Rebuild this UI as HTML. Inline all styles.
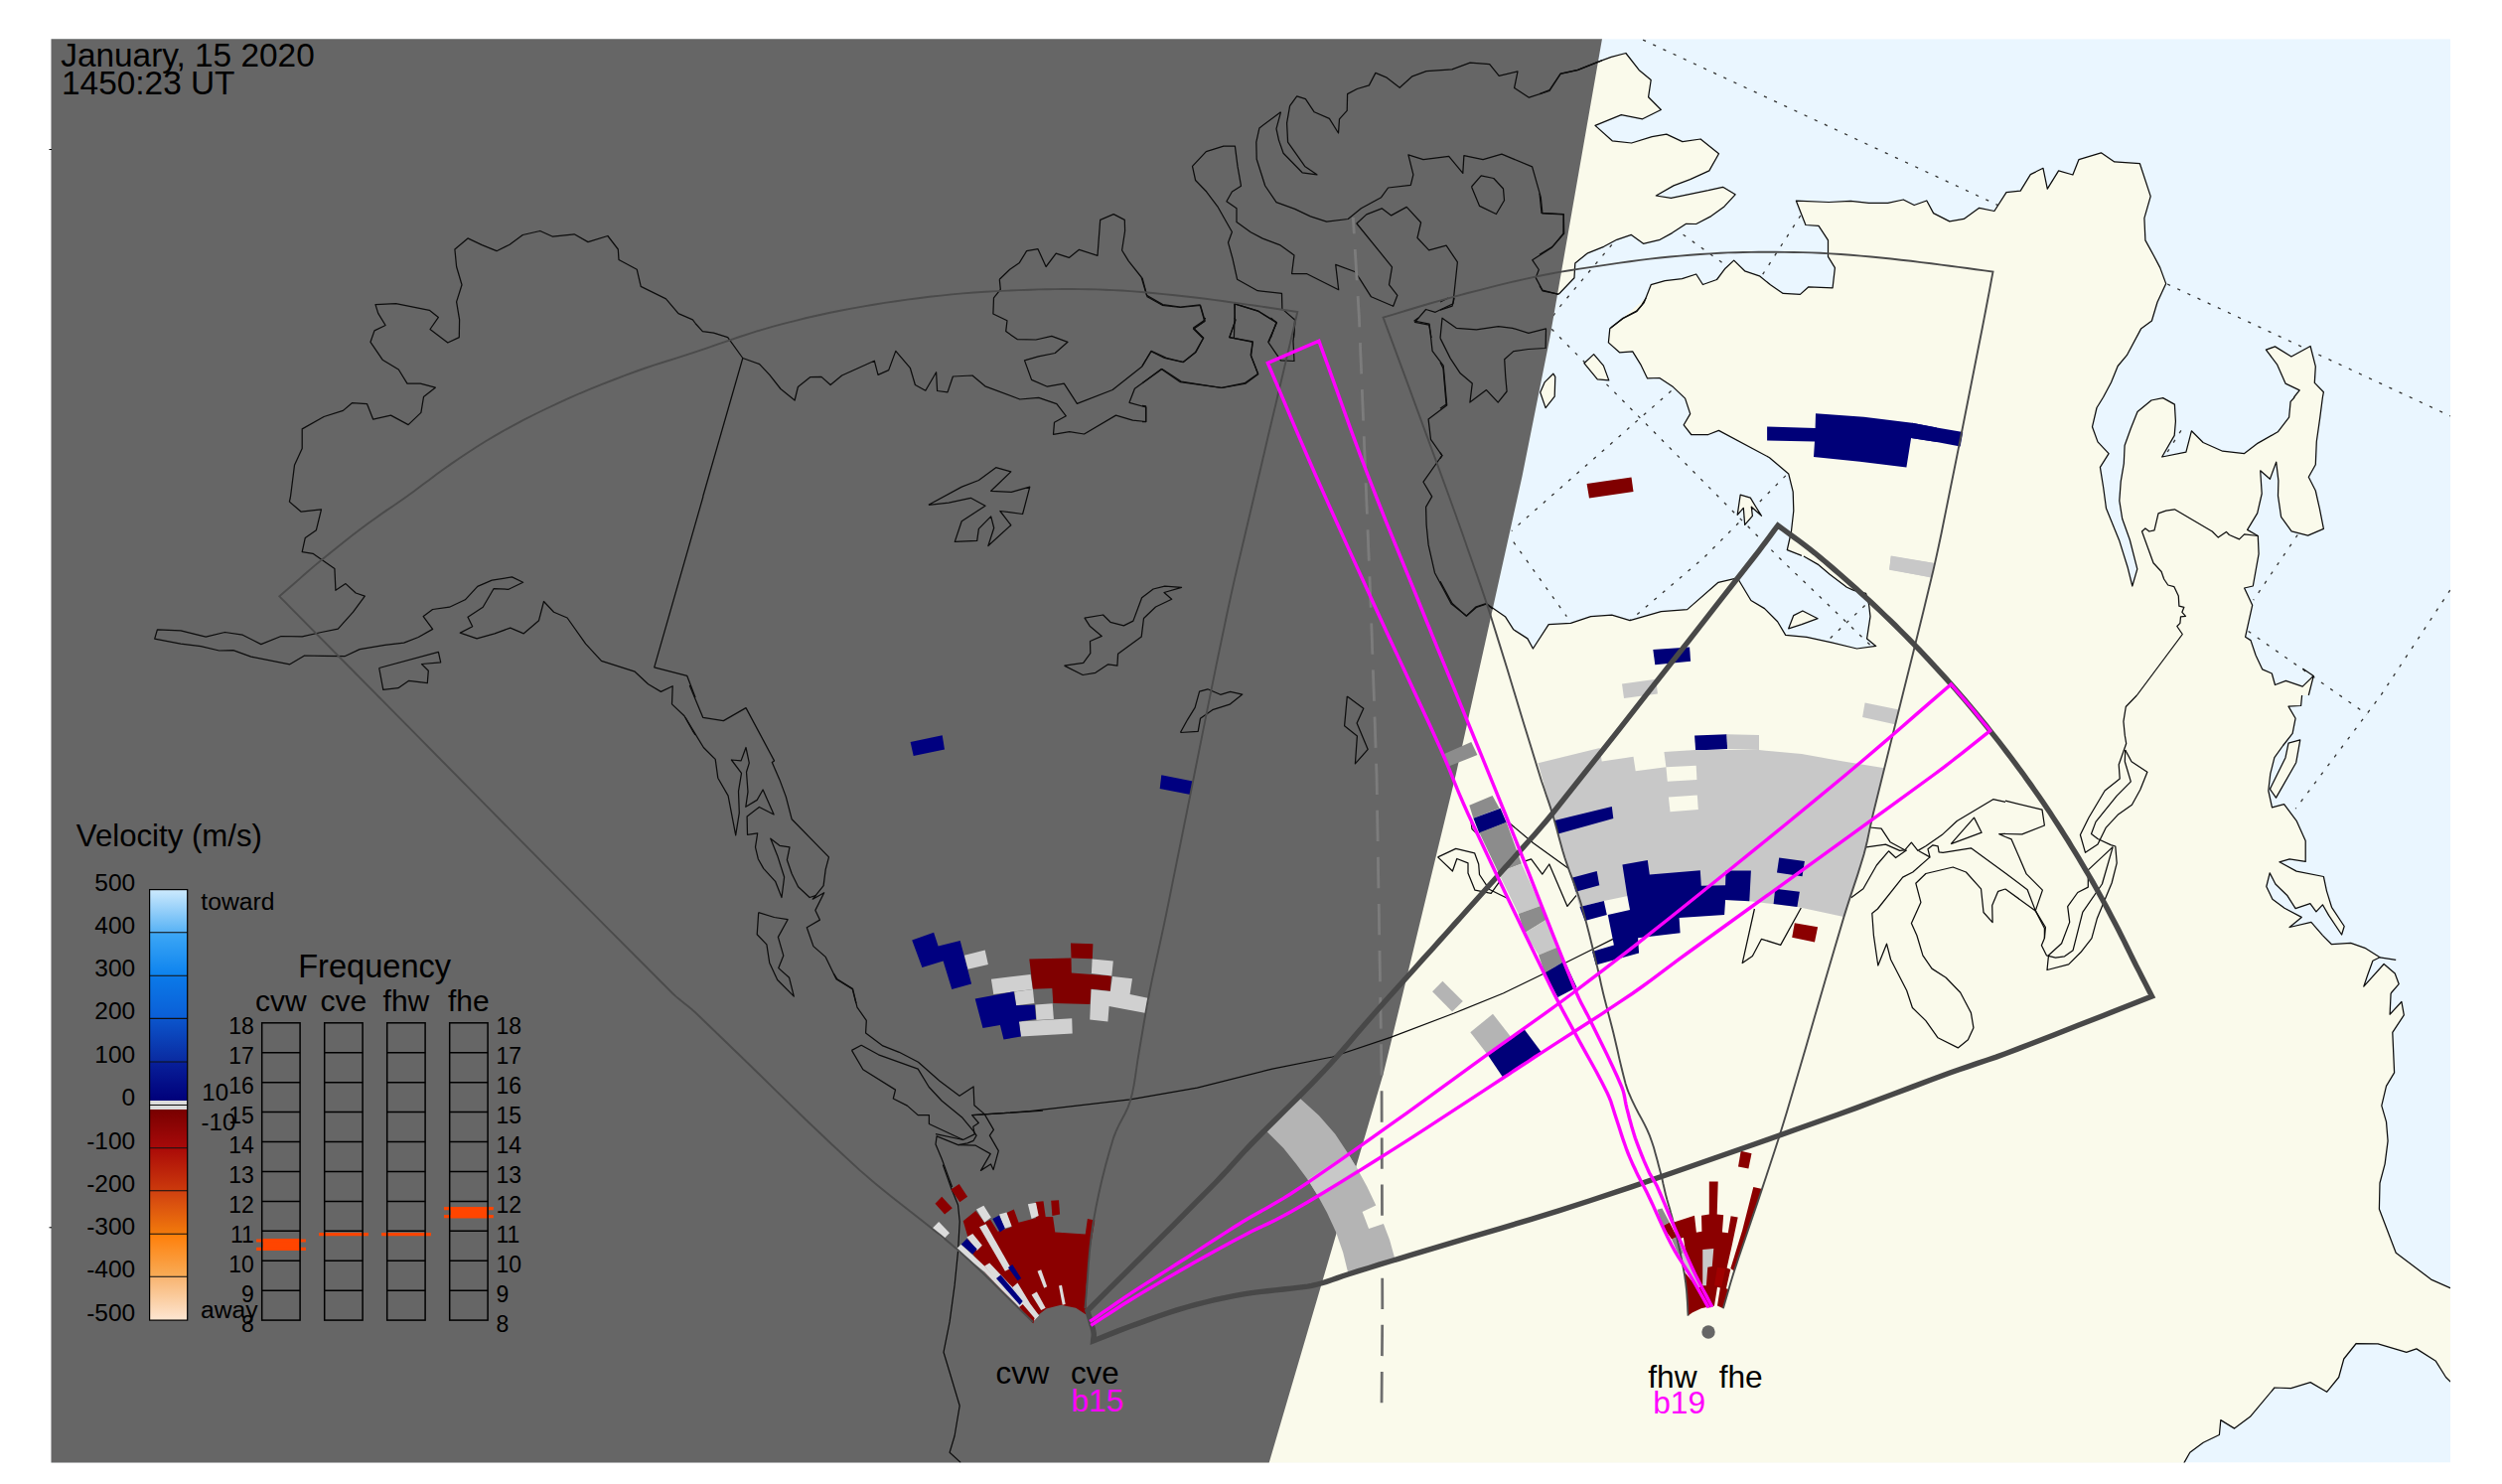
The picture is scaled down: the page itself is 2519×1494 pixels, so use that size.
<!DOCTYPE html><html><head><meta charset="utf-8"><title>Radar map</title><style>html,body{margin:0;padding:0;background:#fff}svg{display:block}text{font-family:"Liberation Sans",sans-serif}</style></head><body>
<svg width="2519" height="1494" viewBox="0 0 2519 1494">
<defs><clipPath id="pc"><rect x="51.5" y="39.2" width="2415.5" height="1433.3"/></clipPath>
<linearGradient id="g0" x1="0" y1="0" x2="0" y2="1"><stop offset="0" stop-color="#cdeafd"/><stop offset="1" stop-color="#58b2f5"/></linearGradient>
<linearGradient id="g1" x1="0" y1="0" x2="0" y2="1"><stop offset="0" stop-color="#3ea8f6"/><stop offset="1" stop-color="#0c82ee"/></linearGradient>
<linearGradient id="g2" x1="0" y1="0" x2="0" y2="1"><stop offset="0" stop-color="#0b7ae9"/><stop offset="1" stop-color="#0b5ed6"/></linearGradient>
<linearGradient id="g3" x1="0" y1="0" x2="0" y2="1"><stop offset="0" stop-color="#0b55cc"/><stop offset="1" stop-color="#0a2aa0"/></linearGradient>
<linearGradient id="g4" x1="0" y1="0" x2="0" y2="1"><stop offset="0" stop-color="#08209a"/><stop offset="1" stop-color="#00007a"/></linearGradient>
<linearGradient id="g5" x1="0" y1="0" x2="0" y2="1"><stop offset="0" stop-color="#780000"/><stop offset="1" stop-color="#a80a0a"/></linearGradient>
<linearGradient id="g6" x1="0" y1="0" x2="0" y2="1"><stop offset="0" stop-color="#aa0a08"/><stop offset="1" stop-color="#cc3a0c"/></linearGradient>
<linearGradient id="g7" x1="0" y1="0" x2="0" y2="1"><stop offset="0" stop-color="#d04010"/><stop offset="1" stop-color="#f27a0c"/></linearGradient>
<linearGradient id="g8" x1="0" y1="0" x2="0" y2="1"><stop offset="0" stop-color="#ff7e08"/><stop offset="1" stop-color="#f8ac58"/></linearGradient>
<linearGradient id="g9" x1="0" y1="0" x2="0" y2="1"><stop offset="0" stop-color="#f8b470"/><stop offset="1" stop-color="#fde6d2"/></linearGradient>
<clipPath id="nightclip"><polygon points="51.0,39.0 1613.0,39.0 1560.4,340.0 1532.4,480.0 1465.7,780.0 1443.6,871.0 1417.3,980.0 1393.0,1080.0 1277.6,1473.0 51.0,1473.0"/></clipPath>
</defs>
<rect width="2519" height="1494" fill="#fff"/>
<g clip-path="url(#pc)">
<rect x="51.5" y="39.2" width="2415.5" height="1433.3" fill="#eaf6ff"/>
<g fill="none" stroke="#333" stroke-width="1.3" stroke-dasharray="3.2,8">
<polyline points="1654.1,40.1 2008.0,204.9 2180.7,285.4 2425.4,399.4 2470.0,420.2"/>
<polyline points="1812.8,217.0 1774.4,276.7"/>
<polyline points="1694.6,236.2 1734.0,264.5"/>
<polyline points="1622.8,246.3 1570.2,309.0 1560.0,323.0"/>
<polyline points="1562.2,331.3 1793.7,564.0 1884.7,651.0"/>
<polyline points="1682.5,393.6 1521.8,534.5"/>
<polyline points="1797.8,478.9 1714.9,562.0 1641.1,624.7"/>
<polyline points="1523.8,545.7 1577.4,620.7"/>
<polyline points="1877.6,609.5 1842.2,642.9"/>
<polyline points="2313.2,538.5 2268.7,604.2"/>
<polyline points="2263.6,635.5 2383.0,719.2"/>
<polyline points="2466.8,594.0 2397.0,700.0 2311.2,814.2"/>
<polyline points="2195.9,433.4 2181.8,455.6"/>
</g>
<g fill="#fafaeb" stroke="none">
<polygon points="2304.0,748.1 2315.8,744.9 2311.7,767.7 2291.5,803.1 2285.4,794.4 2301.0,762.7"/>
<polygon points="1594.9,365.7 1604.6,356.6 1614.4,368.1 1619.8,382.9 1608.3,381.9"/>
<polygon points="1550.7,395.0 1555.1,384.9 1563.8,376.2 1565.8,379.4 1565.2,399.1 1556.1,410.6"/>
<polygon points="1752.2,498.1 1762.3,501.1 1767.8,510.2 1773.5,519.3 1763.3,510.2 1764.4,519.3 1756.7,528.4 1755.3,511.3 1749.2,518.3"/>
<polygon points="1800.7,632.8 1805.8,619.6 1814.9,615.0 1830.1,622.7 1813.9,628.7"/>
</g>
<polygon points="1608.6,62.3 1622.2,57.3 1636.9,53.5 1650.1,70.4 1662.2,80.5 1659.6,97.7 1672.3,110.5 1653.7,119.8 1632.3,115.7 1606.0,126.4 1623.2,141.8 1642.6,144.0 1663.2,137.7 1677.8,135.1 1693.9,142.6 1712.1,140.0 1730.5,154.7 1720.8,171.9 1701.6,180.6 1685.0,186.9 1667.3,197.0 1682.4,199.4 1719.8,191.7 1734.6,188.3 1747.1,195.8 1736.0,207.9 1722.8,217.6 1707.7,225.5 1697.6,225.3 1683.4,234.6 1671.3,241.3 1654.5,245.3 1642.4,236.4 1627.8,241.3 1614.7,248.3 1598.5,254.8 1585.8,265.1 1585.0,279.7 1569.2,296.2 1489.4,292.8 1489.4,50.2" fill="#fafaeb"/>
<polygon points="1288.3,883.5 1288.3,607.9 1496.9,607.9 1515.7,621.1 1523.8,633.8 1537.9,642.9 1543.4,653.0 1559.2,628.7 1581.4,627.3 1601.6,620.6 1622.8,619.2 1641.0,624.7 1672.4,615.6 1698.7,613.6 1730.0,586.3 1749.2,581.8 1762.9,604.5 1776.5,612.6 1789.6,625.7 1797.7,639.4 1818.9,641.3 1844.2,646.9 1869.5,653.0 1888.7,650.4 1879.6,642.9 1883.0,620.6 1881.6,608.5 1878.6,597.4 1866.4,594.4 1859.4,591.3 1842.2,578.2 1830.1,568.1 1815.9,560.0 1813.9,559.4 1799.3,553.7 1803.4,535.5 1805.8,514.3 1805.2,495.1 1800.7,476.9 1781.5,460.7 1730.4,433.4 1719.9,437.5 1702.7,437.5 1695.2,427.8 1701.7,416.6 1696.6,401.1 1684.5,389.6 1670.8,380.5 1658.6,380.9 1652.2,367.7 1643.7,353.8 1630.5,354.8 1619.4,344.9 1620.8,330.7 1634.0,320.2 1647.7,313.1 1652.8,307.1 1657.2,300.0 1621.8,330.0 1633.9,320.7 1648.0,313.4 1655.1,304.9 1662.2,286.7 1676.3,282.7 1693.5,280.7 1707.7,276.0 1714.4,286.5 1728.5,281.5 1737.0,270.2 1745.7,262.1 1756.6,272.8 1771.4,277.8 1782.5,286.7 1795.2,295.4 1812.4,296.4 1820.9,288.8 1845.1,289.8 1847.4,269.6 1840.5,258.4 1840.5,241.9 1831.0,227.3 1817.9,226.5 1808.4,202.2 1841.1,203.5 1863.3,202.4 1881.5,204.3 1900.7,204.3 1916.3,201.0 1927.2,206.5 1939.8,202.0 1946.6,214.6 1962.8,222.9 1977.2,220.4 1992.7,209.3 2007.9,212.5 2020.0,193.7 2034.2,192.1 2044.3,175.6 2049.9,172.9 2049.9,172.8 2057.0,169.3 2061.3,190.2 2072.6,171.8 2086.9,176.0 2093.0,160.6 2115.4,153.8 2128.8,162.9 2154.4,164.7 2165.2,197.6 2158.9,219.7 2159.9,241.9 2168.6,257.7 2174.7,269.4 2180.7,285.6 2172.0,304.2 2166.4,323.0 2155.5,331.1 2141.3,357.7 2132.2,368.5 2125.5,385.0 2117.5,400.0 2117.5,400.0 2111.0,410.5 2106.5,429.7 2112.0,444.9 2123.1,456.6 2114.4,470.4 2117.7,491.0 2120.5,511.8 2133.6,543.9 2142.3,571.8 2146.8,590.0 2151.8,572.8 2144.3,543.5 2136.7,522.3 2133.8,504.1 2135.2,484.9 2138.3,466.7 2139.1,448.5 2145.3,431.3 2152.0,414.6 2166.0,403.0 2177.7,400.6 2189.4,407.1 2190.4,424.3 2189.2,438.4 2176.7,460.0 2200.9,455.2 2206.4,433.8 2218.1,445.5 2237.7,454.2 2259.6,456.6 2273.3,446.1 2293.3,434.8 2304.6,420.2 2306.1,404.4 2310.1,400.0 2309.5,400.0 2315.2,392.9 2301.0,386.1 2292.5,366.8 2281.4,352.1 2290.5,348.9 2306.9,359.0 2326.1,348.5 2331.3,368.9 2330.3,385.4 2339.4,394.7 2338.4,400.0 2338.4,400.0 2335.8,420.2 2332.3,444.5 2331.3,467.7 2324.3,480.3 2331.3,494.0 2335.4,512.2 2339.4,532.4 2323.6,539.1 2307.1,534.8 2296.6,520.3 2293.5,499.1 2293.9,483.9 2291.7,465.1 2285.4,482.3 2275.7,473.8 2277.2,497.0 2272.7,516.6 2262.6,533.4 2273.3,539.5 2274.1,557.7 2268.3,590.0 2259.6,592.0 2267.7,609.2 2260.6,641.2 2266.0,644.6 2271.1,659.8 2277.8,673.9 2287.3,678.0 2290.5,689.5 2301.4,685.4 2318.2,691.1 2329.3,680.4 2318.6,673.3 2329.3,680.4 2324.3,700.0 2317.6,700.0 2316.6,710.5 2304.0,711.1 2311.1,723.2 2308.1,738.4 2298.6,750.5 2289.9,762.7 2285.8,778.8 2283.8,796.0 2287.5,812.8 2299.6,809.6 2312.1,826.3 2321.2,846.6 2321.2,867.4 2305.1,864.8 2294.9,867.8 2312.1,877.1 2339.4,882.5 2342.5,897.1 2347.5,913.3 2360.2,932.5 2357.6,941.0 2344.5,921.4 2338.4,910.8 2331.9,917.9 2325.9,909.6 2311.1,914.7 2303.0,901.8 2290.9,890.0 2285.2,878.9 2281.8,892.5 2287.9,905.2 2300.0,914.3 2317.2,923.4 2305.1,933.5 2326.9,928.4 2338.4,941.6 2347.5,950.7 2366.7,949.3 2380.9,954.3 2396.0,963.8 2388.9,967.3 2383.9,981.0 2379.8,993.1 2400.1,970.5 2411.2,980.0 2415.2,990.7 2407.1,1000.0 2407.1,1000.0 2406.1,1021.2 2417.9,1008.5 2420.3,1021.8 2408.8,1039.4 2410.6,1079.9 2402.5,1093.4 2397.8,1113.2 2402.5,1129.4 2404.1,1148.6 2401.1,1171.8 2396.0,1191.0 2395.4,1217.3 2412.2,1261.2 2447.6,1288.1 2466.8,1296.6 2504.2,1303.2 2509.7,1398.3 2466.9,1390.9 2462.5,1386.5 2452.4,1370.3 2432.9,1357.9 2422.8,1361.3 2394.1,1352.8 2372.2,1352.5 2359.8,1368.0 2354.7,1386.5 2342.6,1401.3 2326.1,1391.6 2306.5,1397.6 2290.0,1397.0 2265.4,1426.3 2249.6,1438.1 2235.8,1429.6 2234.4,1444.5 2218.3,1452.2 2204.8,1462.3 2199.1,1472.4 2199.1,1479.2 2199.1,1533.1 1145.1,1533.1" fill="#fafaeb"/>
<g fill="#eaf6ff" stroke="none">
</g>
<polygon points="51.0,39.0 1613.0,39.0 1560.4,340.0 1532.4,480.0 1465.7,780.0 1443.6,871.0 1417.3,980.0 1393.0,1080.0 1277.6,1473.0 51.0,1473.0" fill="#666666"/>
<g fill="none" stroke="#0d0d0d" stroke-width="1.25" stroke-linejoin="round">
<polyline points="1608.6,62.3 1622.2,57.3 1636.9,53.5 1650.1,70.4 1662.2,80.5 1659.6,97.7 1672.3,110.5 1653.7,119.8 1632.3,115.7 1606.0,126.4 1623.2,141.8 1642.6,144.0 1663.2,137.7 1677.8,135.1 1693.9,142.6 1712.1,140.0 1730.5,154.7 1720.8,171.9 1701.6,180.6 1685.0,186.9 1667.3,197.0 1682.4,199.4 1719.8,191.7 1734.6,188.3 1747.1,195.8 1736.0,207.9 1722.8,217.6 1707.7,225.5 1697.6,225.3 1683.4,234.6 1671.3,241.3 1654.5,245.3 1642.4,236.4 1627.8,241.3 1614.7,248.3 1598.5,254.8 1585.8,265.1 1585.0,279.7 1569.2,296.2"/>
<polyline points="1621.8,330.0 1633.9,320.7 1648.0,313.4 1655.1,304.9 1662.2,286.7 1676.3,282.7 1693.5,280.7 1707.7,276.0 1714.4,286.5 1728.5,281.5 1737.0,270.2 1745.7,262.1 1756.6,272.8 1771.4,277.8 1782.5,286.7 1795.2,295.4 1812.4,296.4 1820.9,288.8 1845.1,289.8 1847.4,269.6 1840.5,258.4 1840.5,241.9 1831.0,227.3 1817.9,226.5 1808.4,202.2 1841.1,203.5 1863.3,202.4 1881.5,204.3 1900.7,204.3 1916.3,201.0 1927.2,206.5 1939.8,202.0 1946.6,214.6 1962.8,222.9 1977.2,220.4 1992.7,209.3 2007.9,212.5 2020.0,193.7 2034.2,192.1 2044.3,175.6 2049.9,172.9"/>
<polyline points="2049.9,172.8 2057.0,169.3 2061.3,190.2 2072.6,171.8 2086.9,176.0 2093.0,160.6 2115.4,153.8 2128.8,162.9 2154.4,164.7 2165.2,197.6 2158.9,219.7 2159.9,241.9 2168.6,257.7 2174.7,269.4 2180.7,285.6 2172.0,304.2 2166.4,323.0 2155.5,331.1 2141.3,357.7 2132.2,368.5 2125.5,385.0 2117.5,400.0"/>
<polyline points="2309.5,400.0 2315.2,392.9 2301.0,386.1 2292.5,366.8 2281.4,352.1 2290.5,348.9 2306.9,359.0 2326.1,348.5 2331.3,368.9 2330.3,385.4 2339.4,394.7 2338.4,400.0"/>
<polyline points="2117.5,400.0 2111.0,410.5 2106.5,429.7 2112.0,444.9 2123.1,456.6 2114.4,470.4 2117.7,491.0 2120.5,511.8 2133.6,543.9 2142.3,571.8 2146.8,590.0 2151.8,572.8 2144.3,543.5 2136.7,522.3 2133.8,504.1 2135.2,484.9 2138.3,466.7 2139.1,448.5 2145.3,431.3 2152.0,414.6 2166.0,403.0 2177.7,400.6 2189.4,407.1 2190.4,424.3 2189.2,438.4 2176.7,460.0 2200.9,455.2 2206.4,433.8 2218.1,445.5 2237.7,454.2 2259.6,456.6 2273.3,446.1 2293.3,434.8 2304.6,420.2 2306.1,404.4 2310.1,400.0"/>
<polyline points="2338.4,400.0 2335.8,420.2 2332.3,444.5 2331.3,467.7 2324.3,480.3 2331.3,494.0 2335.4,512.2 2339.4,532.4 2323.6,539.1 2307.1,534.8 2296.6,520.3 2293.5,499.1 2293.9,483.9 2291.7,465.1 2285.4,482.3 2275.7,473.8 2277.2,497.0 2272.7,516.6 2262.6,533.4 2273.3,539.5 2274.1,557.7 2268.3,590.0 2259.6,592.0 2267.7,609.2 2260.6,641.2 2266.0,644.6 2271.1,659.8 2277.8,673.9 2287.3,678.0 2290.5,689.5 2301.4,685.4 2318.2,691.1 2329.3,680.4 2318.6,673.3 2329.3,680.4 2324.3,700.0"/>
<polyline points="2317.6,700.0 2316.6,710.5 2304.0,711.1 2311.1,723.2 2308.1,738.4 2298.6,750.5 2289.9,762.7 2285.8,778.8 2283.8,796.0 2287.5,812.8 2299.6,809.6 2312.1,826.3 2321.2,846.6 2321.2,867.4 2305.1,864.8 2294.9,867.8 2312.1,877.1 2339.4,882.5 2342.5,897.1 2347.5,913.3 2360.2,932.5 2357.6,941.0 2344.5,921.4 2338.4,910.8 2331.9,917.9 2325.9,909.6 2311.1,914.7 2303.0,901.8 2290.9,890.0 2285.2,878.9 2281.8,892.5 2287.9,905.2 2300.0,914.3 2317.2,923.4 2305.1,933.5 2326.9,928.4 2338.4,941.6 2347.5,950.7 2366.7,949.3 2380.9,954.3 2396.0,963.8 2388.9,967.3 2383.9,981.0 2379.8,993.1 2400.1,970.5 2411.2,980.0 2415.2,990.7 2407.1,1000.0"/>
<polyline points="2407.1,1000.0 2406.1,1021.2 2417.9,1008.5 2420.3,1021.8 2408.8,1039.4 2410.6,1079.9 2402.5,1093.4 2397.8,1113.2 2402.5,1129.4 2404.1,1148.6 2401.1,1171.8 2396.0,1191.0 2395.4,1217.3 2412.2,1261.2 2447.6,1288.1 2466.8,1296.6 2504.2,1303.2"/>
<polyline points="2509.7,1398.3 2466.9,1390.9 2462.5,1386.5 2452.4,1370.3 2432.9,1357.9 2422.8,1361.3 2394.1,1352.8 2372.2,1352.5 2359.8,1368.0 2354.7,1386.5 2342.6,1401.3 2326.1,1391.6 2306.5,1397.6 2290.0,1397.0 2265.4,1426.3 2249.6,1438.1 2235.8,1429.6 2234.4,1444.5 2218.3,1452.2 2204.8,1462.3 2199.1,1472.4 2199.1,1479.2"/>
<polyline points="1813.9,559.4 1799.3,553.7 1803.4,535.5 1805.8,514.3 1805.2,495.1 1800.7,476.9 1781.5,460.7 1730.4,433.4 1719.9,437.5 1702.7,437.5 1695.2,427.8 1701.7,416.6 1696.6,401.1 1684.5,389.6 1670.8,380.5 1658.6,380.9 1652.2,367.7 1643.7,353.8 1630.5,354.8 1619.4,344.9 1620.8,330.7 1634.0,320.2 1647.7,313.1 1652.8,307.1 1657.2,300.0"/>
<polyline points="1496.9,607.9 1515.7,621.1 1523.8,633.8 1537.9,642.9 1543.4,653.0 1559.2,628.7 1581.4,627.3 1601.6,620.6 1622.8,619.2 1641.0,624.7 1672.4,615.6 1698.7,613.6 1730.0,586.3 1749.2,581.8 1762.9,604.5 1776.5,612.6 1789.6,625.7 1797.7,639.4 1818.9,641.3 1844.2,646.9 1869.5,653.0 1888.7,650.4 1879.6,642.9 1883.0,620.6 1881.6,608.5 1878.6,597.4 1866.4,594.4 1859.4,591.3 1842.2,578.2 1830.1,568.1 1815.9,560.0"/>
<polyline points="1272.7,1078.2 1280.9,1076.1 1341.5,1064.0 1400.0,1044.3 1464.1,1020.0 1513.4,1000.0 1551.1,981.7 1603.7,955.5 1623.9,945.4"/>
<polyline points="1608.6,62.3 1588.4,70.4 1571.2,74.1 1560.1,90.6 1550.0,94.7"/>
<polyline points="1550.0,194.8 1552.0,214.4 1574.3,215.6 1574.7,235.2 1563.1,248.3 1550.0,256.4"/>
<polyline points="1569.2,296.2 1553.0,292.8 1550.0,287.7"/>
<polyline points="2273.3,539.5 2259.6,537.9 2254.5,542.9 2244.4,538.5 2241.4,535.4 2233.3,541.1 2227.2,535.0 2189.4,512.8 2180.7,514.2 2173.0,516.8 2169.0,533.8 2163.9,535.0 2159.9,532.0 2156.5,535.0 2168.0,566.8 2176.1,575.5 2178.7,583.0 2182.7,589.0 2188.8,590.6 2193.3,600.1 2193.9,610.2 2198.9,611.3 2196.9,616.3 2200.5,620.4 2195.5,620.8 2194.9,627.4 2191.8,630.5 2197.3,638.5 2151.4,700.0"/>
<polyline points="2396.0,963.8 2412.2,966.4"/>
<polyline points="2151.4,700.0 2140.3,711.5 2137.9,726.3 2139.3,740.4 2140.7,748.5 2133.2,769.7 2134.2,783.9 2119.1,796.0 2102.9,823.3 2094.4,840.5 2099.5,858.3 2112.0,850.0 2120.1,833.4 2132.2,820.3 2146.4,810.2 2154.8,795.0 2161.9,777.2 2146.0,766.7 2139.7,755.0"/>
<polyline points="2139.7,755.0 2139.3,766.7 2145.3,786.9 2131.2,801.1 2110.0,827.4 2105.5,839.5 2112.0,844.5 2125.1,850.6 2129.8,852.0 2131.2,868.8 2126.1,889.0 2118.1,908.2 2111.4,924.4 2105.9,944.6 2094.8,958.8 2082.7,970.9 2061.0,976.5 2062.5,961.8 2075.6,949.7 2083.7,928.4 2081.7,912.7 2091.8,898.5 2102.3,893.1 2102.3,875.9 2127.2,852.6"/>
<polyline points="2127.2,852.6 2116.4,890.0 2096.8,918.3 2087.1,956.7 2078.6,962.8 2069.5,964.2 2060.4,961.8 2055.4,951.7 2058.4,944.6 2058.4,934.5 2049.3,916.9 2056.4,896.1 2040.2,879.9 2025.1,844.9 2019.0,842.5"/>
<polyline points="2019.0,806.1 2056.0,815.2 2058.4,831.0 2035.8,839.9 2019.0,839.5"/>
<polyline points="2019.0,878.9 2041.2,895.7 2049.3,916.9 2019.0,895.1"/>
<polyline points="2049.3,916.9 2059.4,933.5 2058.4,944.6"/>
<polyline points="1450.0,340.4 1452.0,320.2 1466.2,330.3 1486.4,331.9 1508.6,328.7 1522.8,330.3 1538.9,335.4 1556.5,330.9 1556.1,350.5 1538.9,351.5 1523.8,353.6 1514.7,361.7 1515.7,378.8 1517.1,394.0 1508.2,405.1 1496.5,392.6 1479.9,405.1 1482.3,385.9 1470.2,375.8 1460.1,360.6 1450.0,340.4"/>
<polyline points="1450.0,364.7 1453.0,370.8 1456.1,407.1 1450.0,411.2"/>
<polyline points="1450.0,304.0 1458.1,300.0"/>
<polyline points="1450.0,312.1 1462.1,308.1 1464.2,300.0"/>
<polyline points="1450.0,455.7 1452.0,458.7 1450.0,461.7"/>
<polyline points="1450.0,585.3 1462.1,607.5 1476.3,620.2 1486.4,611.5 1496.9,607.9"/>
<polyline points="1766.4,915.0 1754.2,969.6 1764.4,962.5 1773.5,945.3 1792.7,951.4 1813.3,914.0"/>
<polyline points="1447.6,862.9 1465.8,854.4 1484.6,858.8 1488.7,870.0 1489.5,880.5 1499.2,895.2 1517.4,904.3"/>
<polyline points="1447.6,862.9 1462.4,877.0 1466.8,864.5 1478.0,868.9 1478.0,879.1 1485.0,896.2 1501.2,899.3 1509.3,888.2"/>
<polyline points="1518.4,827.5 1543.7,848.7 1580.1,875.0"/>
<polyline points="1535.6,866.9 1541.6,864.9 1552.8,880.1 1559.8,870.0 1578.0,912.4 1587.1,901.3"/>
<polyline points="1481.0,826.5 1482.0,834.6 1487.1,839.6"/>
<polyline points="1882.3,833.0 1894.1,834.2 1903.0,847.7 1917.7,855.8 1924.4,848.1 1930.9,856.4 1938.9,851.8 1955.1,840.6 1970.3,826.5 2006.7,804.7 2019.0,807.3"/>
<polyline points="2019.0,839.4 2012.7,839.6 2019.0,842.5"/>
<polyline points="1931.9,856.8 1943.0,862.9 1941.0,854.8 1946.0,850.8 1951.1,851.8 1952.1,857.8 1956.1,858.4 1984.4,853.8 2019.0,878.9"/>
<polyline points="1964.2,849.7 1987.5,823.1 1995.1,838.2 1964.2,849.7"/>
<polyline points="1877.3,853.2 1898.5,850.1 1912.7,856.4 1917.7,855.8"/>
<polyline points="1943.0,862.9 1925.8,878.0 1915.7,883.1 1890.4,915.0 1884.8,919.5 1886.4,941.7 1890.8,972.0 1899.5,950.2 1903.6,966.0 1919.7,997.3 1925.4,1014.5 1938.9,1027.6 1951.1,1044.8 1971.3,1054.9 1981.4,1046.8 1986.9,1034.7 1984.4,1019.6 1973.7,999.3 1959.2,984.2 1945.0,975.1 1935.9,961.9 1929.9,941.7 1924.4,929.6 1933.9,908.4 1928.8,889.2 1938.9,879.5 1966.2,873.0 1979.4,878.0 1994.5,894.8 1997.0,918.5 2006.1,928.6 2005.7,911.4 2011.7,897.3 2019.0,895.0"/>
<polyline points="1863.7,903.7 1875.9,894.8 1889.4,871.0 1901.5,856.8 1908.6,863.5 1919.7,855.8"/>
<polyline points="857.5,1057.4 867.2,1052.3 884.5,1061.8 924.2,1076.1 935.2,1094.2 948.2,1108.2 969.0,1125.3 980.6,1139.4 981.6,1141.6 969.7,1147.5 935.4,1131.5 935.4,1122.6 924.2,1122.6 913.4,1113.1 899.3,1106.0 901.5,1097.1 868.9,1076.7 857.5,1057.4"/>
<polyline points="839.3,980.0 843.0,985.9 858.6,995.6 863.0,1014.1 872.3,1027.4 871.6,1040.0 888.9,1052.9 905.3,1059.3 924.5,1069.2 946.0,1088.2 966.0,1103.3 980.1,1093.9 980.9,1112.7 991.2,1121.6 1000.4,1137.4 996.4,1143.1 1005.3,1158.6 1000.1,1177.6 997.5,1172.0 987.5,1178.4 997.2,1161.6 982.3,1153.2 964.6,1152.7 943.1,1143.8 942.0,1152.0 948.2,1166.8 954.2,1183.1 958.6,1195.0"/>
<polyline points="1049.9,1118.2 978.6,1122.6 985.3,1130.5 979.8,1134.2 980.9,1140.1 983.1,1143.1 980.1,1148.3 974.2,1150.8 964.6,1152.7"/>
<polyline points="942.0,1141.6 969.7,1147.5"/>
<polyline points="979.6,1122.7 1036.9,1118.7 1138.0,1106.9 1205.4,1095.1 1272.8,1078.2"/>
<polyline points="949.3,1172.6 957.7,1196.2 964.5,1213.0 966.2,1229.8 964.5,1260.2 961.1,1293.9 956.1,1330.9 950.0,1361.3 956.1,1381.5 966.2,1415.2 961.1,1445.5 956.1,1462.3 967.2,1472.4"/>
<polyline points="1213.7,320.0 1211.7,323.0 1201.5,330.1 1211.7,340.2 1204.0,354.4 1191.4,364.5 1174.3,360.4 1159.1,353.4 1150.0,368.5"/>
<polyline points="1150.0,385.7 1169.2,371.5 1188.4,384.7 1229.9,390.4 1253.1,385.7 1266.6,376.2 1259.2,357.4 1261.2,343.9 1237.9,339.6 1244.0,322.0 1243.0,320.0"/>
<polyline points="1279.4,320.0 1285.4,325.1 1276.8,344.3 1289.5,362.9 1303.0,363.5 1302.0,343.7 1304.0,322.6 1304.6,320.0"/>
<polyline points="1150.0,408.3 1153.6,408.9 1153.6,424.5 1150.0,424.5"/>
<polyline points="1428.0,320.0 1423.9,323.0 1439.1,326.1 1442.1,353.4 1453.2,368.1 1456.7,407.9 1438.1,422.1 1440.5,442.3 1451.8,458.5 1433.0,485.2 1441.7,499.9 1435.6,510.4 1436.1,528.2 1438.1,548.4 1444.5,576.7 1461.3,608.1 1476.5,620.0 1485.6,611.1 1496.1,607.7 1502.8,613.1"/>
<polyline points="1441.1,340.0 1438.7,327.1 1424.5,324.4 1435.6,311.5 1445.1,314.3 1462.9,305.8 1467.4,263.8 1456.1,247.2 1438.7,251.9 1427.0,239.5 1430.6,224.0 1416.2,208.4 1400.7,216.9 1391.2,209.8 1375.8,215.9 1365.9,225.0 1401.5,268.8 1398.5,286.6 1406.9,297.3 1402.7,308.3 1380.5,298.8 1368.3,279.6 1363.9,273.5 1344.7,266.4 1347.7,291.7 1315.4,275.5 1300.6,275.5 1303.0,256.9 1288.5,246.6 1271.3,240.1 1259.2,233.7 1245.0,223.6 1245.0,209.8 1234.9,202.7 1240.4,193.0 1249.5,187.2 1246.0,167.4 1243.4,147.1 1231.9,147.1 1214.3,152.6 1200.5,167.4 1203.6,181.5 1214.7,193.0 1225.8,207.8 1240.4,233.5 1236.5,244.2 1241.0,260.4 1245.6,281.2 1266.2,292.7 1290.5,295.3 1290.9,310.9 1303.6,322.0 1302.6,340.0"/>
<polyline points="1289.5,112.8 1267.9,128.9 1264.8,143.1 1265.2,160.3 1273.7,187.0 1285.0,203.7 1303.6,210.4 1319.4,217.9 1335.6,223.2 1357.2,220.5 1370.4,209.8 1390.6,198.7 1397.6,189.0 1420.3,186.4 1422.9,175.8 1417.9,155.8 1433.0,160.7 1458.7,157.3 1472.8,174.4 1473.9,156.6 1493.1,160.7 1511.9,155.2 1542.6,167.8 1551.3,198.7 1552.9,214.9 1574.1,215.9 1573.9,235.1 1562.4,249.2 1542.8,261.8 1549.3,271.5 1546.2,279.6 1552.9,292.1 1569.1,296.3"/>
<polyline points="1289.5,112.8 1285.0,129.6 1287.5,141.1 1292.1,154.2 1311.1,173.8 1325.9,175.8 1313.7,167.4 1296.6,143.1 1295.6,123.9 1298.6,106.7 1305.7,96.8 1314.4,99.6 1323.2,112.8 1338.4,119.4 1347.5,134.0 1348.5,119.9 1356.2,111.4 1356.6,94.6 1366.3,89.5 1378.4,85.9 1384.9,73.4 1395.6,77.8 1409.2,88.3 1421.9,76.8 1436.1,71.7 1461.9,69.9 1480.1,63.2 1499.7,64.7 1509.2,76.4 1528.0,71.9 1524.6,88.5 1539.4,98.2 1560.0,91.5 1571.1,74.4 1588.3,70.7 1612.9,60.8"/>
<polyline points="1481.5,188.0 1491.2,176.9 1503.8,179.5 1513.5,190.0 1514.5,201.7 1506.4,215.5 1489.6,207.4 1481.5,188.0"/>
<polyline points="1150.0,279.6 1155.1,298.8 1170.2,307.3 1188.4,309.5 1208.6,307.5 1213.1,323.0 1201.5,331.1 1210.6,340.0"/>
<polyline points="1242.4,340.0 1243.4,305.8 1266.2,312.9 1285.0,324.6 1279.4,340.0"/>
<polyline points="700.0,325.5 707.4,333.6 718.5,335.2 732.7,339.6 747.8,360.5 764.7,366.6 774.8,377.4 785.9,391.5 800.1,403.0 803.4,389.5 815.6,379.7 827.0,379.4 836.1,387.5 847.6,378.0 880.3,363.2 884.0,377.4 894.7,372.6 901.8,353.4 916.3,370.3 921.4,387.5 931.8,393.2 942.6,374.7 943.6,393.5 954.0,394.9 959.4,379.0 979.0,378.0 991.8,388.8 1026.8,402.0 1045.7,400.3 1063.9,406.7 1073.3,418.8 1061.5,425.2 1060.5,437.3 1076.7,434.6 1091.5,437.0 1123.5,418.1 1140.4,423.2 1153.8,424.5 1153.8,410.0 1137.0,405.3 1142.4,391.2 1170.0,371.6 1189.2,384.1 1230.0,390.5 1254.2,386.1 1266.7,376.7 1259.6,358.2 1261.3,344.3 1237.7,339.6 1243.5,323.5 1242.8,305.9 1267.0,313.3 1285.2,324.5 1277.5,344.3"/>
<polyline points="1006.3,281.3 1016.7,271.2 1026.1,264.8 1033.6,252.7 1045.0,250.7 1053.1,268.5 1063.2,255.1 1076.3,259.4 1086.5,251.3 1105.0,257.4 1107.7,221.4 1121.2,215.6 1132.3,221.4 1132.6,232.5 1129.6,252.0 1136.3,262.8 1149.1,279.0 1154.5,297.2 1170.7,306.6 1188.5,309.0 1208.1,306.9 1212.8,323.5 1202.0,330.9 1211.5,340.3 1203.7,354.4 1191.2,364.6 1172.4,360.5 1158.9,353.8 1149.8,368.9 1120.1,392.5 1084.4,406.3 1071.3,386.1 1054.4,389.2 1038.6,382.4 1031.5,362.9 1045.4,358.8 1062.2,355.5 1075.0,344.3 1058.8,338.3 1043.0,342.0 1024.1,341.6 1012.7,333.6 1014.0,322.8 999.9,316.0 1000.5,299.9 1007.3,291.4 1006.3,281.3"/>
<polyline points="747.8,360.5 707.7,500.0"/>
<polyline points="292.5,500.0 296.5,468.3 304.2,451.5 304.2,431.9 326.1,419.5 345.4,413.4 354.4,405.7 369.6,406.7 375.7,422.2 393.5,418.1 411.1,427.6 423.9,415.4 426.5,399.6 438.3,390.2 423.2,386.1 410.0,386.1 401.3,372.0 385.1,362.2 373.0,344.3 377.0,332.9 388.1,327.5 380.7,315.4 378.0,306.6 398.6,305.6 432.3,312.3 441.4,319.4 433.0,331.5 450.8,345.0 462.3,339.6 462.6,321.8 459.6,303.9 465.0,286.7 459.6,268.5 457.9,251.0 471.0,239.9 485.2,246.6 500.0,252.7 513.1,246.3 526.3,236.5 543.8,232.5 556.6,238.2 578.2,235.8 592.0,243.6 611.9,237.5 622.3,251.0 623.0,261.5 641.2,271.2 645.2,288.4 670.5,300.9 683.0,315.7 697.4,321.8 700.1,325.5"/>
<polyline points="292.5,500.0 291.4,505.1 303.2,515.2 323.5,512.8 318.4,533.7 307.3,541.4 304.2,555.6 315.0,557.3 336.9,572.4 337.9,594.3 348.0,587.6 358.2,597.0 367.3,600.1 355.5,616.2 340.3,633.1 323.5,636.5 304.2,640.8 283.0,640.5 262.8,648.6 244.3,639.2 226.4,636.5 207.2,641.2 181.9,634.8 158.4,633.8 155.7,643.2 181.9,648.2 202.2,650.6 220.7,655.0 234.8,654.6 252.7,661.1 291.8,668.8 306.6,660.0 325.1,660.4 347.0,660.7 362.2,653.6 387.5,649.3 406.7,647.2 421.2,641.5 435.6,633.4 426.2,620.6 435.6,613.5 452.5,611.2 468.3,603.8 480.8,590.3 495.3,584.2 515.5,580.9 526.6,586.3 512.1,593.3 497.0,592.7 486.2,611.2 471.0,621.3 475.7,630.7 463.3,637.1 480.1,642.9 498.0,637.8 513.8,632.1 527.3,637.8 542.5,624.7 547.5,605.5 557.6,616.2 571.1,622.0 589.6,648.2 605.5,665.4 639.2,676.2 652.6,688.7 665.4,696.4 677.2,690.7 676.5,708.9 689.0,720.7 697.4,735.8 700.1,739.9"/>
<polyline points="381.7,672.5 441.4,656.3 443.7,666.8 424.5,668.5 431.3,675.2 430.3,687.7 411.7,685.3 400.9,692.7 385.8,694.4 381.7,672.5"/>
<polyline points="707.9,500.0 658.7,671.8 691.7,680.3 700.1,702.2"/>
<polyline points="1356.3,701.1 1372.8,713.3 1366.1,728.1 1377.2,754.4 1364.4,768.9 1366.4,740.9 1353.6,730.8 1356.3,701.1"/>
<polyline points="694.3,690.0 707.7,722.3 728.4,725.6 751.0,712.6 779.5,765.9 777.3,767.6 784.9,784.9 791.3,802.1 797.2,824.8 834.5,862.9 831.2,875.4 829.1,891.6 818.3,905.2 829.7,898.7 820.9,916.4 825.4,926.1 812.3,933.7 818.9,952.6 831.2,963.4 842.0,985.8 858.2,995.6 861.9,1010.0"/>
<polyline points="690.0,722.3 696.5,733.1 708.3,752.5 720.2,764.4 722.8,783.2 733.1,801.1 740.7,840.9 744.3,818.3 743.5,796.7 746.5,778.4 736.4,765.0 746.1,765.9 751.0,752.5 754.3,768.1 751.5,777.3 753.0,797.2 750.8,812.3 762.2,805.4 768.1,795.0 779.1,820.0 764.4,812.5 752.1,822.0 752.5,840.3 762.7,838.8 760.5,852.8 763.3,864.7 768.7,874.4 780.6,887.3 787.0,903.5 789.6,883.0 782.7,861.4 775.8,844.2 784.9,851.3 795.0,852.8 792.4,865.7 797.2,879.8 803.6,892.7 815.1,903.5 822.0,901.3"/>
<polyline points="763.7,918.6 779.5,923.5 793.1,925.7 783.4,943.4 788.8,962.1 783.8,974.6 794.6,984.3 799.3,1003.1 782.7,986.5 774.7,969.2 771.9,950.9 762.2,940.8 763.7,918.6"/>
<polyline points="934.9,508.3 968.3,490.1 985.4,483.5 1002.7,470.7 1017.8,474.9 997.7,494.3 1018.3,495.4 1036.8,490.1 1029.6,517.5 1006.9,514.5 1017.8,528.7 994.9,549.5 1000.7,531.5 997.7,519.9 985.4,532.4 983.7,544.4 961.3,545.4 968.2,524.8 992.0,509.2 977.3,501.3 955.2,506.1 934.9,508.3"/>
<polyline points="1071.5,670.1 1090.7,667.3 1097.8,657.7 1097.5,645.5 1109.3,640.4 1097.1,630.2 1092.0,622.2 1110.6,619.0 1117.9,626.3 1131.4,629.9 1140.9,625.1 1149.6,601.8 1161.1,593.0 1172.7,590.1 1189.6,591.3 1172.0,596.5 1179.7,603.3 1163.5,611.0 1151.5,622.5 1149.2,641.1 1125.6,658.3 1124.9,670.1 1115.7,668.8 1102.9,677.3 1090.1,679.5 1071.5,670.1"/>
<polyline points="1188.4,737.5 1195.7,724.3 1203.1,712.4 1207.6,696.1 1215.9,693.8 1228.7,699.3 1238.6,696.4 1250.8,699.1 1238.0,709.2 1220.7,714.7 1208.5,723.3 1206.2,736.4 1188.4,737.5"/>
<polygon points="2304.0,748.1 2315.8,744.9 2311.7,767.7 2291.5,803.1 2285.4,794.4 2301.0,762.7"/>
<polygon points="1594.9,365.7 1604.6,356.6 1614.4,368.1 1619.8,382.9 1608.3,381.9"/>
<polygon points="1550.7,395.0 1555.1,384.9 1563.8,376.2 1565.8,379.4 1565.2,399.1 1556.1,410.6"/>
<polygon points="1752.2,498.1 1762.3,501.1 1767.8,510.2 1773.5,519.3 1763.3,510.2 1764.4,519.3 1756.7,528.4 1755.3,511.3 1749.2,518.3"/>
<polygon points="1800.7,632.8 1805.8,619.6 1814.9,615.0 1830.1,622.7 1813.9,628.7"/>
</g>
<polyline points="1362.3,219.0 1368.4,320.0 1380.5,620.0 1386.0,780.0 1391.0,1080.0 1391.8,1320.0 1391.0,1414.0" fill="none" stroke="#6e6e6e" stroke-width="2.8" stroke-dashoffset="15" stroke-dasharray="31.3,15.8"/>
<polyline points="1362.3,219.0 1368.4,320.0 1380.5,620.0 1386.0,780.0 1391.0,1080.0 1391.8,1320.0 1391.0,1414.0" fill="none" stroke="#7c7c7c" stroke-width="2.7" stroke-dashoffset="15" stroke-dasharray="31.3,15.8" clip-path="url(#nightclip)"/>
<polygon points="1442.1,998.2 1452.4,987.7 1472.8,1007.9 1462.1,1018.5" fill="#b4b4b4"/>
<polygon points="1925.1,425.7 1949.9,430.4 1976.2,435.0 1973.6,449.6 1949.9,445.1 1924.1,440.9" fill="#000078"/>
<polygon points="1597.6,487.0 1642.5,480.5 1644.5,495.1 1600.0,501.5" fill="#800000"/>
<polygon points="1779.1,429.4 1827.6,431.0 1828.0,416.2 1876.5,419.7 1925.1,425.7 1949.9,430.4 1949.9,445.1 1924.1,440.9 1919.4,470.4 1872.5,464.8 1826.0,460.1 1827.0,444.5 1779.1,443.5" fill="#000078"/>
<polygon points="1903.8,559.4 1946.3,566.8 1944.3,581.6 1902.2,573.3" fill="#c8c8c8"/>
<polygon points="1664.3,654.0 1701.1,651.4 1702.1,665.7 1666.3,669.2" fill="#000078"/>
<polygon points="1633.0,688.4 1667.3,683.7 1668.9,698.5 1635.0,702.9" fill="#c8c8c8"/>
<polygon points="1903.8,560.0 1947.3,567.1 1944.7,581.2 1902.2,573.7" fill="#c8c8c8"/>
<polygon points="1877.6,707.6 1911.9,714.6 1908.9,729.4 1875.1,722.1" fill="#c8c8c8"/>
<polygon points="1706.1,740.5 1738.5,739.3 1739.1,754.1 1707.1,755.5" fill="#000078"/>
<polygon points="1738.5,739.3 1771.0,739.9 1771.0,755.1 1739.1,754.1" fill="#c8c8c8"/>
<polygon points="1454.0,759.1 1481.3,747.0 1487.4,760.1 1459.1,771.3" fill="#8c8c8c"/>
<polygon points="1479.3,810.7 1502.6,801.0 1509.6,813.7 1483.4,823.8" fill="#8c8c8c"/>
<polygon points="1483.4,823.8 1510.6,813.7 1516.7,827.9 1489.4,839.0" fill="#000078"/>
<polygon points="1548.5,768.2 1610.7,753.1 1612.7,766.6 1644.5,761.8 1646.7,776.3 1677.4,772.3 1675.4,757.1 1706.7,755.1 1771.0,755.1 1813.9,759.1 1854.3,766.2 1897.2,773.3 1876.5,860.0 1856.3,923.1 1809.8,913.0 1761.3,907.3 1737.1,905.9 1640.0,901.8 1614.8,906.9 1590.5,913.0 1575.3,863.4" fill="#c8c8c8"/>
<polygon points="1677.4,772.3 1707.7,770.8 1708.4,785.0 1678.8,786.8" fill="#fafaeb"/>
<polygon points="1679.9,802.6 1708.8,800.6 1709.8,815.1 1681.5,817.3" fill="#fafaeb"/>
<polygon points="1565.2,826.1 1622.8,811.9 1624.3,824.0 1568.7,839.6" fill="#000078"/>
<polygon points="1582.4,883.7 1607.7,877.0 1610.3,891.2 1586.5,897.8" fill="#000078"/>
<polygon points="1590.5,913.0 1614.8,906.9 1617.8,921.1 1595.6,927.1" fill="#000078"/>
<polygon points="1633.4,870.5 1658.8,866.1 1660.8,880.6 1711.8,876.2 1712.8,891.8 1737.1,891.2 1737.5,876.6 1762.9,876.6 1761.3,907.3 1737.1,905.9 1736.1,921.1 1690.6,924.1 1691.6,939.3 1649.1,944.3 1650.1,959.5 1606.7,971.6 1603.0,958.1 1624.9,951.4 1618.8,921.1 1641.0,916.0 1638.0,899.9" fill="#000078"/>
<polygon points="1791.2,863.5 1816.9,866.9 1814.5,882.3 1789.0,878.6" fill="#000078"/>
<polygon points="1787.2,894.8 1811.9,897.8 1809.4,913.0 1785.6,910.0" fill="#000078"/>
<polygon points="1806.8,929.2 1830.1,933.2 1827.0,948.4 1804.2,943.7" fill="#8b0000"/>
<polygon points="1480.3,1039.3 1503.0,1020.7 1520.8,1043.4 1497.5,1061.6" fill="#b4b4b4"/>
<polygon points="1497.5,1061.6 1533.9,1035.3 1552.1,1059.6 1513.7,1085.4" fill="#000078"/>
<polygon points="1489.4,838.2 1516.7,827.7 1531.9,869.5 1508.6,878.6" fill="#8c8c8c"/>
<polygon points="1508.6,878.6 1531.9,869.5 1551.1,912.0 1528.8,920.1" fill="#c8c8c8"/>
<polygon points="1528.8,920.1 1551.1,912.0 1558.2,925.1 1534.9,939.3" fill="#8c8c8c"/>
<polygon points="1534.9,939.3 1558.2,925.1 1568.3,953.4 1549.1,961.5" fill="#c8c8c8"/>
<polygon points="1549.1,961.5 1568.3,953.4 1575.3,967.6 1555.1,979.7" fill="#8c8c8c"/>
<polygon points="1555.1,979.7 1575.3,967.6 1587.5,993.9 1568.3,1004.0" fill="#000078"/>
<polygon points="1699.6,1324.6 1698.6,1305.3 1696.1,1280.8 1709.0,1296.4 1719.3,1315.7 1712.7,1317.2 1703.8,1321.6" fill="#8b0000"/>
<polygon points="1720.1,1316.4 1709.0,1296.4 1712.7,1294.9 1723.8,1315.7" fill="#8b0000"/>
<polygon points="1709.0,1296.4 1712.7,1294.9 1694.9,1261.6 1689.7,1263.1" fill="#c8c8c8"/>
<polygon points="1689.7,1263.1 1694.9,1261.6 1688.2,1245.3 1683.0,1247.5" fill="#8c8c8c"/>
<polygon points="1683.0,1247.5 1688.2,1245.3 1680.8,1230.4 1673.7,1234.2" fill="#8b0000"/>
<polygon points="1673.7,1234.2 1680.8,1230.4 1673.4,1216.4 1668.5,1217.8" fill="#8c8c8c"/>
<polygon points="1685.2,1230.4 1706.0,1223.8 1707.9,1240.8 1713.4,1239.8 1713.0,1223.8 1720.8,1222.6 1720.8,1189.4 1729.7,1189.4 1728.7,1222.6 1735.2,1223.3 1733.9,1240.4 1739.8,1241.3 1742.6,1224.2 1749.7,1225.6 1743.8,1253.4 1738.6,1276.4 1742.3,1277.9 1737.9,1297.2 1740.5,1297.9 1734.9,1317.2 1729.0,1314.5 1731.9,1296.4 1729.0,1295.7 1726.0,1314.5 1723.8,1315.7 1706.7,1283.1 1697.1,1260.1 1694.9,1246.0 1688.9,1247.5 1686.7,1238.6" fill="#8b0000"/>
<polygon points="1765.3,1194.9 1774.2,1197.1 1746.0,1279.4 1742.3,1277.1 1754.2,1238.6" fill="#8b0000"/>
<polygon points="1752.7,1158.8 1763.5,1161.2 1760.4,1176.6 1750.0,1174.6" fill="#8b0000"/>
<polygon points="1714.2,1257.9 1725.3,1257.1 1723.8,1274.9 1719.3,1275.7 1717.9,1294.2 1714.2,1294.2" fill="#c8c8c8"/>
<polygon points="1729.0,1275.7 1737.1,1277.1 1733.4,1294.9 1726.0,1294.2" fill="#a00000"/>
<polygon points="969.7,1229.3 982.3,1218.9 991.2,1230.8 997.1,1227.8 1004.5,1239.7 1018.6,1235.2 1013.4,1221.1 1020.8,1217.4 1025.6,1230.8 1043.0,1226.3 1042.3,1210.0 1050.5,1209.3 1052.7,1224.9 1060.1,1224.9 1062.3,1240.4 1092.7,1242.6 1094.9,1227.1 1102.3,1228.6 1097.2,1258.9 1093.5,1296.0 1093.5,1323.4 1083.1,1316.8 1068.2,1313.8 1053.4,1317.5 1043.0,1325.7 1040.1,1332.3 1026.0,1316.0 1008.9,1299.0 991.2,1280.4 979.3,1261.9" fill="#8b0000"/>
<polygon points="962.3,1257.8 967.7,1252.7 979.3,1263.4 991.2,1274.5 1004.5,1288.6 1016.4,1300.5 1029.7,1313.1 1046.0,1324.2 1040.8,1329.8 1026.0,1316.0 1008.9,1299.0 991.2,1280.4 976.3,1268.6" fill="#dcdcdc"/>
<polygon points="983.0,1217.4 990.4,1213.7 997.8,1225.6 991.2,1230.8" fill="#dcdcdc"/>
<polygon points="1006.0,1222.6 1013.4,1220.4 1018.6,1234.5 1011.2,1236.7" fill="#dcdcdc"/>
<polygon points="1034.9,1212.3 1043.0,1210.8 1045.7,1224.1 1038.6,1227.1" fill="#dcdcdc"/>
<polygon points="986.0,1235.2 992.6,1232.3 1017.8,1276.7 1011.9,1279.7" fill="#dcdcdc"/>
<polygon points="973.4,1245.6 979.3,1241.9 988.9,1253.8 983.7,1258.9" fill="#dcdcdc"/>
<polygon points="991.2,1274.5 996.3,1271.5 1023.8,1300.5 1046.0,1324.2 1040.8,1329.8 1026.0,1316.0" fill="#dcdcdc"/>
<polygon points="1019.3,1296.0 1024.5,1291.6 1037.1,1312.3 1046.0,1324.2 1038.6,1318.2" fill="#dcdcdc"/>
<polygon points="1038.6,1303.4 1043.8,1300.5 1052.7,1316.8 1048.2,1319.0" fill="#dcdcdc"/>
<polygon points="1044.5,1279.7 1048.2,1278.2 1054.2,1295.3 1051.2,1296.8" fill="#dcdcdc"/>
<polygon points="1066.0,1294.5 1069.0,1293.8 1072.7,1313.1 1069.7,1313.8" fill="#dcdcdc"/>
<polygon points="999.3,1227.1 1006.0,1223.4 1011.9,1236.7 1006.7,1240.4" fill="#000080"/>
<polygon points="967.7,1252.7 973.4,1247.1 983.7,1257.5 979.3,1262.7" fill="#000080"/>
<polygon points="1014.9,1276.0 1019.3,1273.0 1028.2,1287.1 1024.5,1289.3" fill="#000080"/>
<polygon points="1003.0,1287.1 1007.5,1283.4 1029.7,1310.1 1026.7,1313.8" fill="#000080"/>
<polygon points="957.4,1197.4 965.7,1191.9 974.1,1204.8 966.3,1210.3" fill="#8b0000"/>
<polygon points="941.5,1211.8 948.2,1204.8 958.8,1216.3 951.1,1222.6" fill="#8b0000"/>
<polygon points="938.5,1236.7 945.2,1230.0 956.0,1241.2 950.1,1247.4" fill="#dcdcdc"/>
<polygon points="1058.2,1208.8 1066.0,1208.2 1067.1,1222.6 1059.4,1224.1" fill="#8b0000"/>
<polygon points="1026.0,1316.0 1029.7,1313.1 1041.6,1327.1 1040.1,1332.3" fill="#8b0000"/>
<polygon points="918.2,946.6 940.1,938.8 944.6,952.4 966.7,947.0 978.1,990.5 958.3,995.9 949.6,967.4 928.4,974.0" fill="#000080"/>
<polygon points="970.9,961.7 991.7,956.6 994.9,971.0 974.5,975.8" fill="#d0d0d0"/>
<polygon points="997.9,985.7 1037.5,980.9 1039.9,996.1 1000.3,1000.9" fill="#d0d0d0"/>
<polygon points="1021.3,998.5 1039.9,996.1 1041.4,1009.9 1023.1,1012.3" fill="#d0d0d0"/>
<polygon points="1042.5,1011.4 1059.7,1010.2 1060.9,1026.1 1043.5,1027.0" fill="#d0d0d0"/>
<polygon points="1025.9,1028.5 1079.2,1025.3 1079.7,1040.5 1027.9,1043.5" fill="#d0d0d0"/>
<polygon points="981.7,1005.4 1020.7,998.2 1023.1,1012.3 1041.7,1011.4 1043.1,1026.1 1025.9,1028.5 1027.9,1043.5 1010.5,1046.5 1006.9,1032.1 989.5,1035.1" fill="#000080"/>
<polygon points="1078.0,949.4 1100.4,950.2 1099.8,965.3 1078.5,964.6" fill="#800000"/>
<polygon points="1036.3,965.6 1078.5,964.4 1078.8,979.4 1118.8,982.4 1117.8,997.7 1098.6,995.5 1097.4,1010.9 1060.3,1009.9 1059.3,994.9 1039.9,995.8" fill="#800000"/>
<polygon points="1099.6,965.6 1120.8,967.4 1119.3,982.4 1098.9,980.0" fill="#d0d0d0"/>
<polygon points="1120.0,982.9 1140.0,985.3 1137.6,1000.9 1156.8,1005.1 1153.8,1020.1 1116.6,1012.9 1115.4,1028.5 1097.2,1026.5 1098.6,996.1 1117.8,997.9" fill="#d0d0d0"/>
<polygon points="1306.9,1103.9 1327.9,1122.9 1344.1,1141.5 1357.0,1160.9 1366.7,1177.0 1376.4,1194.8 1385.3,1213.4 1371.6,1219.9 1378.1,1236.9 1392.9,1232.0 1399.1,1248.2 1404.7,1268.4 1357.8,1283.8 1352.2,1261.1 1344.9,1240.1 1336.0,1220.7 1326.3,1202.9 1316.6,1187.5 1305.3,1172.2 1292.3,1156.0 1274.6,1138.2" fill="#b4b4b4"/>
<polygon points="1316.6,1187.5 1357.0,1160.9 1366.7,1177.0 1326.3,1202.9" fill="#c8c8c8"/>
<polygon points="916.6,747.0 948.7,740.2 951.0,754.4 919.7,761.1" fill="#000080"/>
<polygon points="1169.3,780.3 1201.0,786.4 1198.7,799.9 1167.7,794.1" fill="#000080"/>
<g fill="none" stroke="#4b4b4b" stroke-width="1.9" stroke-linejoin="miter">
<polyline points="1040.0,1331.0 1027.2,1318.6 1014.5,1306.1 1001.8,1293.6 989.0,1281.1 976.0,1268.9 962.8,1257.0 946.8,1243.5 930.4,1230.4 913.8,1217.5 897.2,1204.5 880.9,1191.3 865.1,1177.6 837.1,1151.8 809.5,1125.5 782.1,1098.9 754.9,1072.2 727.5,1045.7 700.0,1019.3 696.3,1016.0 692.4,1012.8 688.5,1009.7 684.6,1006.6 680.7,1003.4 677.1,1000.0 610.9,933.6 544.9,867.1 479.0,800.4 413.1,733.7 347.2,667.0 281.3,600.4 288.3,594.3 295.3,588.2 302.2,582.1 309.2,576.0 316.3,569.9 323.4,564.0 331.1,557.7 338.9,551.4 346.7,545.2 354.6,539.1 362.5,533.0 370.5,527.0 376.9,522.4 383.3,517.9 389.8,513.4 396.4,509.0 402.9,504.5 409.3,500.0 416.9,494.5 424.4,488.8 432.0,483.2 439.5,477.5 447.1,472.0 454.8,466.6 463.0,461.0 471.3,455.5 479.7,450.0 488.1,444.7 496.7,439.6 505.3,434.6 516.3,428.6 527.4,422.7 538.6,417.0 549.9,411.5 561.3,406.1 572.7,400.9 583.8,396.0 594.9,391.4 606.1,386.8 617.4,382.5 628.7,378.2 640.0,374.0 649.9,370.5 659.9,367.2 669.9,364.0 680.0,360.8 690.0,357.6 700.0,354.4 711.2,350.6 722.4,346.7 733.6,342.8 744.8,339.0 756.1,335.3 767.4,331.8 778.5,328.6 789.7,325.6 800.9,322.8 812.1,320.0 823.4,317.5 834.7,315.0 845.9,312.7 857.1,310.6 868.3,308.6 879.6,306.7 890.8,304.9 902.1,303.2 913.3,301.6 924.5,300.2 935.7,298.8 947.0,297.6 958.2,296.4 969.5,295.4 980.7,294.5 991.9,293.8 1003.2,293.1 1014.4,292.6 1025.7,292.1 1036.9,291.7 1045.3,291.4 1053.7,291.2 1062.1,291.1 1070.6,291.0 1079.0,291.0 1087.4,291.1 1095.8,291.2 1104.2,291.4 1112.7,291.7 1121.1,292.1 1129.5,292.5 1137.9,293.1 1149.1,294.0 1160.4,295.0 1171.6,296.1 1182.9,297.3 1194.1,298.5 1205.3,299.8 1213.7,300.8 1222.2,301.9 1230.6,303.0 1239.0,304.2 1247.4,305.4 1255.8,306.6 1264.2,307.8 1272.6,309.0 1281.1,310.3 1289.5,311.5 1297.9,312.8 1306.3,314.0 1299.0,345.0 1291.7,376.0 1284.4,407.0 1277.0,438.0 1269.8,469.0 1262.5,500.0 1257.8,520.0 1253.1,540.0 1248.4,559.9 1243.7,579.9 1239.2,599.9 1234.9,620.0 1224.5,669.9 1214.4,719.9 1204.4,770.0 1194.4,820.0 1184.3,870.0 1174.2,920.0 1171.4,933.3 1168.5,946.7 1165.6,960.0 1162.7,973.3 1159.8,986.6 1157.1,1000.0 1155.2,1010.0 1153.4,1020.0 1151.7,1030.0 1150.0,1040.0 1148.3,1050.0 1146.6,1060.0 1145.3,1068.1 1144.1,1076.3 1142.9,1084.5 1141.6,1092.6 1140.0,1100.6 1137.9,1108.5 1135.6,1114.8 1132.7,1121.0 1129.5,1127.0 1126.3,1133.1 1123.4,1139.3 1121.0,1145.6 1116.9,1159.4 1113.1,1173.3 1109.5,1187.4 1106.3,1201.5 1103.4,1215.6 1100.8,1229.8 1098.7,1244.3 1097.1,1258.9 1095.8,1273.5 1094.8,1288.1 1093.7,1302.8 1092.4,1317.4"/>
<polyline points="1699.6,1324.6 1699.3,1320.2 1699.1,1315.7 1698.9,1311.3 1698.6,1306.9 1698.3,1302.4 1697.9,1298.0 1697.5,1294.5 1697.1,1291.0 1696.6,1287.6 1696.1,1284.1 1695.5,1280.6 1694.9,1277.2 1693.3,1269.3 1691.7,1261.3 1689.9,1253.4 1688.2,1245.5 1686.4,1237.6 1684.5,1229.7 1683.4,1225.2 1682.1,1220.8 1680.9,1216.3 1679.6,1211.9 1678.3,1207.5 1677.1,1203.0 1676.2,1199.2 1675.3,1195.3 1674.4,1191.5 1673.6,1187.6 1672.7,1183.8 1671.7,1180.0 1670.0,1173.8 1668.4,1167.6 1666.7,1161.4 1665.0,1155.3 1663.0,1149.2 1660.8,1143.2 1658.3,1137.4 1655.5,1131.7 1652.6,1126.1 1649.5,1120.5 1646.6,1114.9 1643.8,1109.2 1642.4,1106.2 1641.1,1103.2 1639.8,1100.2 1638.6,1097.2 1637.6,1094.1 1636.6,1091.0 1634.4,1082.6 1632.3,1074.1 1630.3,1065.6 1628.4,1057.0 1626.4,1048.5 1624.4,1040.0 1622.7,1033.3 1621.0,1026.7 1619.2,1020.0 1617.5,1013.3 1615.8,1006.7 1614.1,1000.0 1613.0,995.3 1611.9,990.5 1610.9,985.8 1609.9,981.1 1608.8,976.3 1607.7,971.6 1605.1,961.1 1602.6,950.7 1600.0,940.2 1597.3,929.8 1594.5,919.3 1591.5,909.0 1589.0,901.3 1586.4,893.8 1583.6,886.2 1580.7,878.7 1578.0,871.1 1575.4,863.5 1573.2,856.3 1571.2,849.0 1569.2,841.8 1567.3,834.5 1565.3,827.2 1563.2,820.0 1561.1,813.3 1558.9,806.6 1556.6,800.0 1554.4,793.3 1552.1,786.7 1550.0,780.0 1541.8,753.3 1533.6,726.7 1525.5,700.0 1517.4,673.3 1509.1,646.6 1500.8,620.0 1497.5,609.9 1494.2,599.9 1490.8,589.9 1487.3,579.9 1483.8,570.0 1480.3,560.0 1476.8,550.0 1473.3,540.0 1469.8,530.0 1466.2,520.0 1462.6,510.0 1459.0,500.0 1448.0,469.9 1436.9,439.8 1425.9,409.8 1414.8,379.7 1403.7,349.7 1392.6,319.6 1404.4,316.1 1416.2,312.5 1427.9,309.0 1439.7,305.5 1451.5,302.1 1463.4,298.8 1477.8,295.0 1492.2,291.3 1506.6,287.7 1521.0,284.2 1535.5,280.9 1550.0,277.7 1560.1,275.7 1570.1,273.9 1580.3,272.2 1590.4,270.6 1600.6,269.1 1610.7,267.6 1620.8,266.1 1630.9,264.6 1641.0,263.2 1651.1,261.9 1661.2,260.6 1671.3,259.5 1681.4,258.5 1691.5,257.6 1701.6,256.8 1711.7,256.0 1721.9,255.4 1732.0,254.8 1739.7,254.4 1747.5,254.2 1755.2,254.0 1763.0,253.9 1770.7,253.8 1778.5,253.8 1787.6,253.8 1796.7,253.9 1805.8,254.0 1814.8,254.1 1823.9,254.4 1833.0,254.8 1843.1,255.4 1853.3,256.0 1863.4,256.8 1873.5,257.6 1883.6,258.5 1893.7,259.5 1903.8,260.5 1914.0,261.7 1924.1,262.8 1934.2,264.1 1944.3,265.3 1954.4,266.6 1963.1,267.7 1971.8,268.9 1980.5,270.0 1989.1,271.2 1997.8,272.4 2006.5,273.6 2004.7,283.0 2003.0,292.4 2001.2,301.8 1999.4,311.2 1997.6,320.6 1995.8,330.0 1990.2,358.3 1984.6,386.7 1979.0,415.0 1973.4,443.4 1967.7,471.7 1962.0,500.0 1959.5,512.4 1957.0,524.8 1954.5,537.2 1951.9,549.5 1949.2,561.9 1946.4,574.2 1936.5,615.2 1926.4,656.2 1916.2,697.1 1906.0,738.1 1895.8,779.0 1885.7,820.0 1884.2,826.7 1882.7,833.4 1881.3,840.1 1879.9,846.7 1878.3,853.4 1876.6,860.0 1873.4,870.6 1870.1,881.1 1866.6,891.6 1863.1,902.1 1859.7,912.6 1856.4,923.1 1846.7,955.9 1837.1,988.7 1827.6,1021.6 1818.1,1054.4 1808.5,1087.2 1798.8,1120.0 1794.9,1132.8 1790.9,1145.5 1786.8,1158.3 1782.6,1171.0 1778.4,1183.7 1774.2,1196.4 1769.6,1210.2 1764.8,1224.1 1760.1,1237.9 1755.4,1251.7 1750.7,1265.5 1746.1,1279.4 1744.1,1285.7 1742.2,1292.0 1740.4,1298.3 1738.6,1304.6 1736.7,1310.9 1734.9,1317.2"/>
</g>
<g fill="none" stroke="#484848" stroke-width="5.4" stroke-linejoin="miter">
<polyline points="1100.6,1349.9 1106.7,1347.5 1112.8,1345.0 1118.9,1342.6 1125.0,1340.1 1131.1,1337.8 1137.3,1335.5 1146.8,1332.1 1156.3,1328.6 1165.8,1325.3 1175.3,1322.0 1184.9,1318.9 1194.6,1316.0 1204.0,1313.4 1213.5,1311.0 1223.1,1308.7 1232.7,1306.6 1242.3,1304.7 1251.9,1302.9 1259.9,1301.6 1267.9,1300.6 1275.9,1299.7 1283.9,1298.9 1292.0,1298.0 1300.0,1297.1 1304.1,1296.6 1308.3,1296.1 1312.4,1295.6 1316.6,1295.1 1320.6,1294.4 1324.7,1293.5 1330.1,1292.0 1335.5,1290.3 1340.9,1288.5 1346.3,1286.6 1351.6,1284.8 1357.0,1283.0 1367.5,1279.7 1378.0,1276.5 1388.5,1273.2 1399.0,1270.0 1409.5,1266.8 1420.0,1263.6 1450.0,1254.6 1480.1,1245.7 1510.2,1236.8 1540.2,1227.8 1570.2,1218.6 1600.0,1209.0 1641.8,1195.1 1683.6,1180.8 1725.2,1166.3 1766.9,1151.7 1808.4,1137.0 1850.0,1122.2 1868.9,1115.4 1887.8,1108.3 1906.6,1101.2 1925.5,1094.1 1944.3,1087.0 1963.2,1080.0 1972.5,1076.7 1981.8,1073.6 1991.1,1070.4 2000.5,1067.3 2009.8,1064.1 2019.0,1060.7 2043.7,1051.3 2068.3,1041.7 2092.8,1032.1 2117.4,1022.4 2141.9,1012.7 2166.5,1003.0 2163.3,996.8 2160.2,990.6 2157.0,984.4 2153.8,978.1 2150.6,971.9 2147.5,965.7 2144.5,959.6 2141.5,953.5 2138.5,947.4 2135.4,941.3 2132.4,935.2 2129.3,929.2 2126.1,923.2 2123.0,917.2 2119.8,911.2 2116.5,905.2 2113.2,899.2 2109.9,893.3 2106.6,887.4 2103.2,881.5 2099.7,875.6 2096.3,869.8 2092.8,863.9 2089.3,858.1 2085.7,852.3 2082.2,846.5 2078.5,840.8 2074.9,835.0 2071.2,829.3 2067.5,823.6 2063.8,817.9 2060.0,812.3 2056.1,806.6 2052.3,801.0 2048.4,795.5 2044.5,789.9 2040.5,784.4 2036.6,778.8 2032.5,773.3 2028.5,767.9 2024.4,762.4 2020.3,757.0 2016.2,751.6 2012.0,746.2 2007.8,740.9 2003.6,735.6 1999.4,730.3 1995.1,725.0 1990.8,719.7 1986.4,714.5 1982.0,709.3 1977.6,704.1 1973.2,698.9 1968.7,693.8 1964.2,688.7 1959.7,683.6 1955.1,678.6 1950.5,673.6 1945.9,668.6 1941.3,663.6 1936.6,658.7 1931.9,653.7 1927.2,648.8 1922.5,644.0 1917.7,639.1 1912.9,634.3 1908.1,629.5 1903.2,624.8 1898.3,620.1 1893.4,615.4 1888.5,610.7 1883.5,606.1 1878.5,601.5 1873.5,596.9 1868.4,592.3 1863.3,587.8 1858.2,583.3 1853.1,578.8 1848.0,574.4 1842.8,569.9 1837.7,565.5 1832.4,561.2 1827.2,556.8 1821.9,552.6 1816.7,548.6 1811.4,544.6 1806.0,540.7 1800.7,536.8 1795.3,532.9 1790.0,529.0 1786.1,534.2 1782.3,539.4 1778.4,544.6 1774.6,549.7 1770.7,554.9 1766.7,560.0 1732.7,603.4 1698.8,646.8 1664.7,690.2 1630.7,733.6 1596.5,776.8 1562.2,820.0 1556.6,826.8 1550.8,833.6 1545.0,840.2 1539.1,846.8 1533.2,853.4 1527.3,860.0 1521.4,866.7 1515.4,873.4 1509.5,880.0 1503.5,886.7 1497.6,893.3 1491.6,900.0 1484.7,907.7 1477.7,915.5 1470.8,923.2 1463.9,930.9 1456.9,938.7 1450.0,946.4 1441.7,955.7 1433.3,964.9 1425.0,974.2 1416.7,983.5 1408.3,992.7 1400.0,1002.0 1397.3,1005.0 1394.6,1008.0 1392.0,1011.0 1389.3,1014.0 1386.7,1017.0 1384.0,1020.0 1375.2,1030.0 1366.5,1040.1 1357.8,1050.2 1349.1,1060.3 1340.2,1070.2 1331.2,1080.0 1319.5,1092.1 1307.7,1104.0 1295.7,1115.9 1283.7,1127.7 1271.8,1139.5 1260.0,1151.5 1254.0,1157.8 1248.1,1164.3 1242.2,1170.8 1236.4,1177.3 1230.4,1183.7 1224.4,1190.0 1202.9,1211.7 1181.4,1233.3 1159.8,1254.9 1138.2,1276.4 1116.5,1297.9 1094.9,1319.5 1095.5,1321.4 1096.0,1323.3 1096.6,1325.2 1097.2,1327.2 1097.8,1329.1 1098.3,1331.0 1098.8,1332.9 1099.4,1334.8 1100.0,1336.7 1100.5,1338.6 1100.9,1340.5 1101.2,1342.4 1101.3,1343.6 1101.2,1344.9 1101.1,1346.1 1100.9,1347.4 1100.7,1348.6 1100.6,1349.9 1137.3,1335.5"/>
</g>
<g fill="none" stroke="#ff00ff" stroke-linejoin="miter">
<polyline points="1097.2,1330.4 1103.9,1325.8 1110.5,1321.2 1117.2,1316.6 1123.9,1312.0 1130.6,1307.4 1137.3,1302.9 1146.8,1296.7 1156.3,1290.6 1165.9,1284.5 1175.5,1278.4 1185.0,1272.3 1194.6,1266.2 1204.1,1260.1 1213.6,1253.9 1223.2,1247.7 1232.7,1241.6 1242.3,1235.5 1251.9,1229.5 1259.9,1224.8 1268.0,1220.2 1276.1,1215.7 1284.2,1211.1 1292.2,1206.4 1300.0,1201.5 1316.9,1190.3 1333.6,1178.9 1350.3,1167.3 1366.9,1155.6 1383.5,1143.9 1400.0,1132.2 1416.3,1120.6 1432.5,1108.9 1448.6,1097.2 1464.8,1085.4 1480.9,1073.6 1497.1,1061.9 1511.5,1051.6 1525.9,1041.4 1540.3,1031.1 1554.7,1020.9 1569.0,1010.5 1583.2,1000.0 1599.5,987.7 1615.7,975.4 1631.9,962.9 1648.0,950.3 1664.0,937.7 1680.0,925.0 1709.9,901.0 1739.7,877.0 1769.5,852.9 1799.2,828.7 1828.8,804.4 1858.3,780.0 1876.1,765.0 1893.9,749.9 1911.5,734.7 1929.1,719.4 1946.7,704.1 1964.3,688.9 1967.6,692.7 1971.0,696.6 1974.3,700.4 1977.7,704.3 1981.0,708.1 1984.3,712.0 1987.6,715.9 1990.8,719.9 1994.0,723.8 1997.3,727.8 2000.5,731.7 2003.7,735.7 1994.3,743.1 1984.9,750.6 1975.5,758.1 1966.0,765.5 1956.5,772.8 1946.9,780.0 1905.6,810.2 1864.2,840.2 1822.7,870.2 1781.2,900.1 1739.7,930.0 1698.2,960.0 1689.1,966.7 1680.1,973.4 1671.1,980.2 1662.1,986.9 1653.0,993.5 1643.8,1000.0 1628.6,1010.2 1613.3,1020.3 1597.9,1030.3 1582.4,1040.2 1567.0,1050.1 1551.6,1060.1 1545.1,1064.3 1538.7,1068.6 1532.2,1072.8 1525.7,1077.0 1519.3,1081.3 1512.8,1085.5 1494.0,1097.8 1475.3,1110.1 1456.5,1122.4 1437.8,1134.7 1418.9,1146.9 1400.0,1158.9 1383.5,1169.3 1366.9,1179.6 1350.3,1189.9 1333.6,1200.0 1316.9,1210.0 1300.0,1219.8 1292.1,1224.1 1284.1,1228.2 1276.1,1232.1 1268.0,1235.9 1259.9,1239.8 1251.9,1243.9 1242.3,1249.0 1232.7,1254.2 1223.1,1259.4 1213.6,1264.7 1204.1,1270.0 1194.6,1275.4 1185.0,1280.9 1175.4,1286.5 1165.8,1292.1 1156.3,1297.7 1146.8,1303.4 1137.3,1309.2 1130.7,1313.3 1124.2,1317.5 1117.7,1321.7 1111.3,1325.9 1104.8,1330.2 1098.3,1334.4" stroke-width="3.4"/>
<polyline points="1720.1,1316.5 1717.4,1311.7 1714.7,1306.8 1712.0,1302.0 1709.3,1297.2 1706.6,1292.4 1703.8,1287.6 1700.3,1281.9 1696.8,1276.3 1693.2,1270.7 1689.6,1265.0 1686.2,1259.3 1683.0,1253.5 1678.8,1245.2 1674.8,1236.8 1670.9,1228.4 1667.1,1219.9 1663.3,1211.4 1659.3,1203.0 1657.4,1199.1 1655.4,1195.3 1653.4,1191.5 1651.4,1187.7 1649.4,1183.9 1647.5,1180.0 1645.8,1176.3 1644.1,1172.7 1642.4,1168.9 1640.8,1165.2 1639.3,1161.5 1637.8,1157.7 1635.9,1152.3 1634.0,1146.9 1632.2,1141.4 1630.5,1135.9 1628.7,1130.5 1626.9,1125.0 1625.6,1120.9 1624.3,1116.8 1623.0,1112.7 1621.7,1108.6 1620.1,1104.6 1618.4,1100.7 1613.0,1090.0 1607.5,1079.5 1601.7,1069.0 1595.9,1058.6 1590.1,1048.1 1584.4,1037.6 1581.0,1031.4 1577.6,1025.1 1574.2,1018.9 1570.9,1012.6 1567.6,1006.3 1564.4,1000.0 1549.8,970.1 1535.3,940.2 1520.9,910.2 1506.6,880.2 1492.4,850.1 1478.3,820.0 1473.4,809.0 1468.6,797.8 1464.0,786.6 1459.5,775.4 1454.8,764.2 1450.0,753.1 1439.9,730.8 1429.7,708.7 1419.4,686.5 1409.1,664.4 1398.8,642.2 1388.6,620.0 1378.0,596.7 1367.3,573.4 1356.7,550.1 1346.2,526.8 1335.7,503.4 1325.3,480.0 1317.0,461.0 1308.8,441.9 1300.7,422.8 1292.6,403.7 1284.5,384.6 1276.4,365.5 1327.9,343.3 1336.2,366.1 1344.4,388.9 1352.6,411.8 1360.8,434.6 1369.2,457.3 1377.8,480.0 1386.9,503.4 1396.2,526.8 1405.7,550.1 1415.2,573.4 1424.7,596.7 1434.1,620.0 1436.7,626.5 1439.4,633.0 1442.0,639.6 1444.7,646.1 1447.3,652.6 1450.0,659.1 1461.0,685.9 1471.9,712.7 1482.9,739.5 1493.9,766.3 1504.8,793.1 1515.7,820.0 1527.7,850.0 1539.6,880.0 1551.4,910.1 1563.2,940.1 1575.2,970.1 1587.4,1000.0 1589.5,1004.8 1591.8,1009.4 1594.2,1014.0 1596.6,1018.6 1599.1,1023.2 1601.4,1027.9 1606.8,1039.0 1612.2,1050.0 1617.6,1061.1 1622.9,1072.2 1628.0,1083.3 1632.9,1094.6 1634.1,1097.9 1635.0,1101.3 1635.7,1104.8 1636.3,1108.3 1637.0,1111.8 1637.8,1115.3 1639.1,1120.4 1640.4,1125.5 1641.8,1130.5 1643.2,1135.6 1644.7,1140.6 1646.3,1145.6 1648.4,1151.4 1650.6,1157.2 1652.9,1163.0 1655.2,1168.7 1657.7,1174.4 1660.2,1180.0 1661.4,1182.4 1662.8,1184.7 1664.2,1187.1 1665.6,1189.4 1667.0,1191.7 1668.2,1194.1 1671.8,1202.2 1675.3,1210.4 1678.7,1218.5 1682.1,1226.7 1685.5,1234.9 1689.0,1243.1 1691.9,1249.8 1694.8,1256.5 1697.7,1263.2 1700.7,1269.9 1703.7,1276.5 1706.8,1283.1 1709.5,1288.6 1712.3,1294.0 1715.2,1299.5 1718.1,1304.9 1720.9,1310.3 1723.8,1315.7" stroke-width="3.4"/>
</g>
<g font-size="24.5" fill="#000">
<rect x="150.6" y="895.6" width="38.1" height="43.1" fill="url(#g0)"/>
<rect x="150.6" y="938.7" width="38.1" height="43.6" fill="url(#g1)"/>
<rect x="150.6" y="982.3" width="38.1" height="43.1" fill="url(#g2)"/>
<rect x="150.6" y="1025.4" width="38.1" height="43.6" fill="url(#g3)"/>
<rect x="150.6" y="1069" width="38.1" height="39" fill="url(#g4)"/>
<rect x="150.6" y="1117" width="38.1" height="38.7" fill="url(#g5)"/>
<rect x="150.6" y="1155.7" width="38.1" height="43.1" fill="url(#g6)"/>
<rect x="150.6" y="1198.8" width="38.1" height="43.4" fill="url(#g7)"/>
<rect x="150.6" y="1242.2" width="38.1" height="43.1" fill="url(#g8)"/>
<rect x="150.6" y="1285.3" width="38.1" height="43.8" fill="url(#g9)"/>
<rect x="150.6" y="1108" width="38.1" height="9" fill="#dcdcdc"/>
<line x1="150.6" x2="188.7" y1="938.7" y2="938.7" stroke="#111" stroke-width="1.1"/>
<line x1="150.6" x2="188.7" y1="982.3" y2="982.3" stroke="#111" stroke-width="1.1"/>
<line x1="150.6" x2="188.7" y1="1025.4" y2="1025.4" stroke="#111" stroke-width="1.1"/>
<line x1="150.6" x2="188.7" y1="1069" y2="1069" stroke="#111" stroke-width="1.1"/>
<line x1="150.6" x2="188.7" y1="1112.5" y2="1112.5" stroke="#111" stroke-width="1.1"/>
<line x1="150.6" x2="188.7" y1="1155.7" y2="1155.7" stroke="#111" stroke-width="1.1"/>
<line x1="150.6" x2="188.7" y1="1198.8" y2="1198.8" stroke="#111" stroke-width="1.1"/>
<line x1="150.6" x2="188.7" y1="1242.2" y2="1242.2" stroke="#111" stroke-width="1.1"/>
<line x1="150.6" x2="188.7" y1="1285.3" y2="1285.3" stroke="#111" stroke-width="1.1"/>
<rect x="150.6" y="895.6" width="38.1" height="433.5" fill="none" stroke="#000" stroke-width="1.2"/>
<text x="136.2" y="896.8" text-anchor="end">500</text>
<text x="136.2" y="939.8" text-anchor="end">400</text>
<text x="136.2" y="983.3" text-anchor="end">300</text>
<text x="136.2" y="1026.4" text-anchor="end">200</text>
<text x="136.2" y="1069.8" text-anchor="end">100</text>
<text x="136.2" y="1113.2" text-anchor="end">0</text>
<text x="136.2" y="1156.5" text-anchor="end">-100</text>
<text x="136.2" y="1199.6" text-anchor="end">-200</text>
<text x="136.2" y="1243" text-anchor="end">-300</text>
<text x="136.2" y="1286.1" text-anchor="end">-400</text>
<text x="136.2" y="1329.6" text-anchor="end">-500</text>
<text x="202.3" y="916" font-size="24.7">toward</text>
<text x="202" y="1327.4" font-size="24.7">away</text>
<text x="203.3" y="1107.7" font-size="24">10</text>
<text x="202.6" y="1137.7" font-size="24">-10</text>
</g>
<text x="76.8" y="852" font-size="31.2">Velocity (m/s)</text>
<text x="300.2" y="984.2" font-size="32.6">Frequency</text>
<g font-size="30" text-anchor="middle">
<text x="282.9" y="1017.6">cvw</text>
<text x="345.9" y="1017.6">cve</text>
<text x="408.9" y="1017.6">fhw</text>
<text x="471.9" y="1017.6">fhe</text>
</g>
<rect x="264.6" y="1247" width="36.9" height="12" fill="#ff4500"/>
<g stroke="#ff4500" stroke-width="3.2">
<line x1="258.1" x2="307.9" y1="1249" y2="1249"/><line x1="258.1" x2="307.9" y1="1257.4" y2="1257.4"/>
<line x1="447" x2="496.8" y1="1216.7" y2="1216.7"/><line x1="447" x2="496.8" y1="1224.7" y2="1224.7"/>
<line x1="321.1" x2="370.9" y1="1242.7" y2="1242.7"/><line x1="384.1" x2="433.9" y1="1242.7" y2="1242.7"/>
</g>
<rect x="453.7" y="1215.1" width="37" height="11.2" fill="#ff4500"/>
<g fill="none" stroke="#000" stroke-width="1.5">
<rect x="263.7" y="1029.8" width="38.4" height="299.3"/>
<line x1="263.7" x2="302.1" y1="1059.73" y2="1059.73"/>
<line x1="263.7" x2="302.1" y1="1089.66" y2="1089.66"/>
<line x1="263.7" x2="302.1" y1="1119.59" y2="1119.59"/>
<line x1="263.7" x2="302.1" y1="1149.52" y2="1149.52"/>
<line x1="263.7" x2="302.1" y1="1179.45" y2="1179.45"/>
<line x1="263.7" x2="302.1" y1="1209.38" y2="1209.38"/>
<line x1="263.7" x2="302.1" y1="1239.31" y2="1239.31"/>
<line x1="263.7" x2="302.1" y1="1269.24" y2="1269.24"/>
<line x1="263.7" x2="302.1" y1="1299.17" y2="1299.17"/>
<rect x="326.7" y="1029.8" width="38.4" height="299.3"/>
<line x1="326.7" x2="365.1" y1="1059.73" y2="1059.73"/>
<line x1="326.7" x2="365.1" y1="1089.66" y2="1089.66"/>
<line x1="326.7" x2="365.1" y1="1119.59" y2="1119.59"/>
<line x1="326.7" x2="365.1" y1="1149.52" y2="1149.52"/>
<line x1="326.7" x2="365.1" y1="1179.45" y2="1179.45"/>
<line x1="326.7" x2="365.1" y1="1209.38" y2="1209.38"/>
<line x1="326.7" x2="365.1" y1="1239.31" y2="1239.31"/>
<line x1="326.7" x2="365.1" y1="1269.24" y2="1269.24"/>
<line x1="326.7" x2="365.1" y1="1299.17" y2="1299.17"/>
<rect x="389.7" y="1029.8" width="38.4" height="299.3"/>
<line x1="389.7" x2="428.1" y1="1059.73" y2="1059.73"/>
<line x1="389.7" x2="428.1" y1="1089.66" y2="1089.66"/>
<line x1="389.7" x2="428.1" y1="1119.59" y2="1119.59"/>
<line x1="389.7" x2="428.1" y1="1149.52" y2="1149.52"/>
<line x1="389.7" x2="428.1" y1="1179.45" y2="1179.45"/>
<line x1="389.7" x2="428.1" y1="1209.38" y2="1209.38"/>
<line x1="389.7" x2="428.1" y1="1239.31" y2="1239.31"/>
<line x1="389.7" x2="428.1" y1="1269.24" y2="1269.24"/>
<line x1="389.7" x2="428.1" y1="1299.17" y2="1299.17"/>
<rect x="452.7" y="1029.8" width="38.4" height="299.3"/>
<line x1="452.7" x2="491.1" y1="1059.73" y2="1059.73"/>
<line x1="452.7" x2="491.1" y1="1089.66" y2="1089.66"/>
<line x1="452.7" x2="491.1" y1="1119.59" y2="1119.59"/>
<line x1="452.7" x2="491.1" y1="1149.52" y2="1149.52"/>
<line x1="452.7" x2="491.1" y1="1179.45" y2="1179.45"/>
<line x1="452.7" x2="491.1" y1="1209.38" y2="1209.38"/>
<line x1="452.7" x2="491.1" y1="1239.31" y2="1239.31"/>
<line x1="452.7" x2="491.1" y1="1269.24" y2="1269.24"/>
<line x1="452.7" x2="491.1" y1="1299.17" y2="1299.17"/>
</g>
<g font-size="23">
<text x="255.8" y="1041.3" text-anchor="end">18</text>
<text x="499.5" y="1041.3">18</text>
<text x="255.8" y="1071.2" text-anchor="end">17</text>
<text x="499.5" y="1071.2">17</text>
<text x="255.8" y="1101.2" text-anchor="end">16</text>
<text x="499.5" y="1101.2">16</text>
<text x="255.8" y="1131.1" text-anchor="end">15</text>
<text x="499.5" y="1131.1">15</text>
<text x="255.8" y="1161.0" text-anchor="end">14</text>
<text x="499.5" y="1161.0">14</text>
<text x="255.8" y="1190.9" text-anchor="end">13</text>
<text x="499.5" y="1190.9">13</text>
<text x="255.8" y="1220.9" text-anchor="end">12</text>
<text x="499.5" y="1220.9">12</text>
<text x="255.8" y="1250.8" text-anchor="end">11</text>
<text x="499.5" y="1250.8">11</text>
<text x="255.8" y="1280.7" text-anchor="end">10</text>
<text x="499.5" y="1280.7">10</text>
<text x="255.8" y="1310.7" text-anchor="end">9</text>
<text x="499.5" y="1310.7">9</text>
<text x="255.8" y="1340.6" text-anchor="end">8</text>
<text x="499.5" y="1340.6">8</text>
</g>
<text x="61.2" y="66.7" font-size="33.4">January, 15 2020</text>
<text x="62" y="94.7" font-size="33.4">1450:23 UT</text>
<text x="1002.5" y="1393" font-size="31.3">cvw</text><text x="1077.9" y="1393" font-size="31.3">cve</text>
<text x="1078.5" y="1421" font-size="31.7" fill="#ff00ff">b15</text>
<text x="1659.3" y="1396.5" font-size="31.7">fhw</text><text x="1730.7" y="1396.5" font-size="31.7">fhe</text>
<text x="1664.2" y="1423.4" font-size="31.7" fill="#ff00ff">b19</text>
<circle cx="1720" cy="1341" r="6.7" fill="#666"/>
</g>
<line x1="49.5" x2="52" y1="150.5" y2="150.5" stroke="#000" stroke-width="1"/><line x1="49.5" x2="52" y1="1235.8" y2="1235.8" stroke="#000" stroke-width="1"/>
</svg></body></html>
